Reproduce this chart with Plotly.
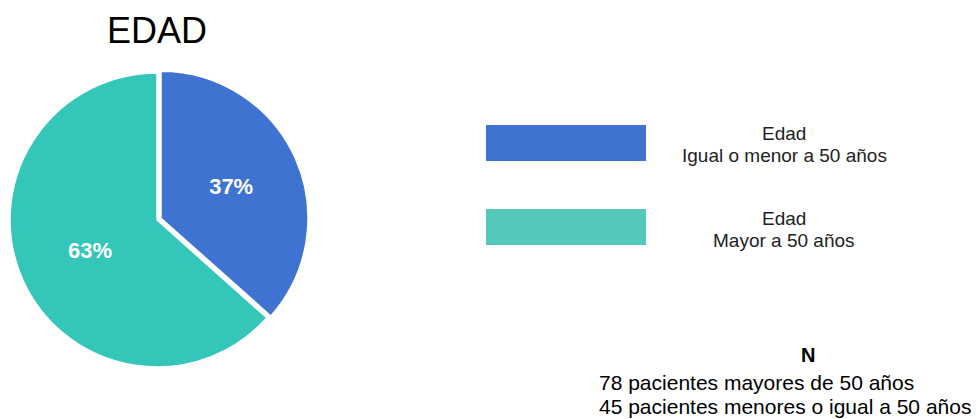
import plotly.graph_objects as go

# Age groups and patient counts
group_titles = ["Edad", "Edad"]
group_ranges = ["Igual o menor a 50 años", "Mayor a 50 años"]
groups = [f"{t}<br>{g}" for t, g in zip(group_titles, group_ranges)]
patients = [45, 78]
slice_colors = ["#3E73D2", "#33C6B9"]
legend_colors = ["#3E73D2", "#55C8BC"]
pulls = [0.03, 0]

W, H = 979, 419
FONT = "Liberation Sans, Arial, sans-serif"


def px(x):
    return x / W


def py(y):
    return 1 - y / H


# Pie geometry in pixels (center and radius), enlarged for the pulled slice
cx, cy, r = 157, 220, 147
r_dom = r * (1 + max(pulls))

fig = go.Figure()
fig.add_trace(go.Pie(
    labels=groups,
    values=patients,
    sort=False,
    direction="clockwise",
    rotation=0,
    pull=pulls,
    marker=dict(colors=slice_colors, line=dict(color="white", width=1.5)),
    texttemplate="<b>%{percent:.0%}</b>",
    textposition="inside",
    insidetextorientation="horizontal",
    textfont=dict(family=FONT, size=22, color="white"),
    hoverinfo="label+value+percent",
    showlegend=False,
    domain=dict(x=[px(cx - r_dom), px(cx + r_dom)], y=[py(cy + r_dom), py(cy - r_dom)]),
))

shapes = []
annotations = []

# Title
annotations.append(dict(
    x=px(157), y=py(30), xref="paper", yref="paper", text="EDAD",
    showarrow=False, font=dict(family=FONT, size=36, color="black"),
    xanchor="center", yanchor="middle",
))

# Custom legend: wide colour bars with centred two-line labels
legend_rows = [(125, 161, 133, 155), (209, 245, 218, 240)]
for (y0, y1, t1, t2), color, title, rng in zip(legend_rows, legend_colors, group_titles, group_ranges):
    shapes.append(dict(
        type="rect", xref="paper", yref="paper",
        x0=px(486), x1=px(646), y0=py(y1), y1=py(y0),
        fillcolor=color, line=dict(width=0),
    ))
    for ty, text in ((t1, title), (t2, rng)):
        annotations.append(dict(
            x=px(784), y=py(ty), xref="paper", yref="paper", text=text,
            showarrow=False, align="center", xanchor="center", yanchor="middle",
            font=dict(family=FONT, size=19, color="#222222"),
        ))

# Sample size note
annotations.append(dict(
    x=px(808), y=py(355), xref="paper", yref="paper", text="<b>N</b>",
    showarrow=False, xanchor="center", yanchor="middle",
    font=dict(family=FONT, size=20, color="black"),
))
n_lines = [
    f"{patients[1]} pacientes mayores de 50 años",
    f"{patients[0]} pacientes menores o igual a 50 años",
]
for ty, line in zip([382, 406], n_lines):
    annotations.append(dict(
        x=px(597), y=py(ty), xref="paper", yref="paper", text=line,
        showarrow=False, xanchor="left", yanchor="middle",
        font=dict(family=FONT, size=21, color="black"),
    ))

fig.update_layout(
    width=W, height=H,
    margin=dict(l=0, r=0, t=0, b=0),
    paper_bgcolor="white", plot_bgcolor="white",
    shapes=shapes, annotations=annotations,
    showlegend=False,
)

fig.write_html("out.html")
